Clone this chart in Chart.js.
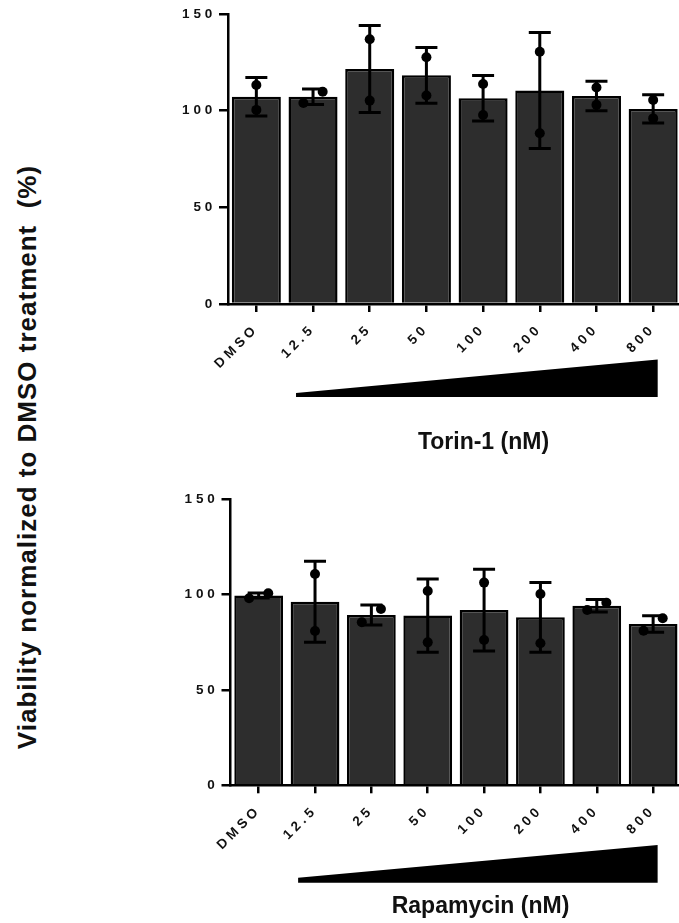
<!DOCTYPE html>
<html>
<head>
<meta charset="utf-8">
<script src="https://cdn.jsdelivr.net/npm/chart.js@4.4.1/dist/chart.umd.min.js"></script>
<style>
  body { margin: 0; background: #fff; width: 679px; height: 923px; overflow: hidden; position: relative;
         font-family: "Liberation Sans", Arial, sans-serif; }
  .box { position: absolute; left: 0; }
  #ytitle { position: absolute; left: 27px; top: 457px; transform: translate(-50%, -50%) rotate(-90deg);
            white-space: pre; font-weight: bold; font-size: 26px; letter-spacing: 1px; color: #111; }
</style>
</head>
<body>
<div id="ytitle">Viability normalized to DMSO treatment  (%)</div>
<div class="box" style="top:0"><canvas id="torinChart" width="700" height="470"></canvas></div>
<div class="box" style="top:470px"><canvas id="rapaChart" width="700" height="453"></canvas></div>
<script>
const doses = ['DMSO', '12.5', '25', '50', '100', '200', '400', '800'];
const yTicks = [0, 50, 100, 150];

// Torin-1, mean +/- SD and the two replicates
const torinMean = [107.2, 107.2, 121.6, 118.3, 106.4, 110.4, 107.6, 100.9];
const torinSD   = [10.0, 4.0, 22.5, 14.4, 11.8, 30.0, 7.6, 7.3];
const torinRep1 = [113.3, 104.0, 136.9, 127.6, 113.8, 130.5, 112.0, 105.5];
const torinRep2 = [100.4, 109.8, 105.2, 107.8, 97.8, 88.3, 103.0, 96.0];

// Rapamycin
const rapaMean = [99.4, 96.2, 89.2, 88.9, 91.8, 88.0, 94.1, 84.5];
const rapaSD   = [1.3, 21.2, 5.2, 19.2, 21.4, 18.3, 3.3, 4.3];
const rapaRep1 = [100.6, 110.7, 92.4, 101.8, 106.2, 100.2, 95.7, 87.5];
const rapaRep2 = [98.0, 80.8, 85.4, 74.9, 76.1, 74.4, 91.8, 81.0];

const FONT = '"Liberation Sans", Arial, sans-serif';

// two replicates close together get nudged apart, lower one to the left
function replicatePoints(rep1, rep2) {
    const pts = [];
    rep1.forEach((a, i) => {
        const b = rep2[i];
        const nudge = Math.abs(a - b) < 8 ? 0.17 : 0;
        pts.push({ x: i + (a < b ? -nudge : nudge), y: a });
        pts.push({ x: i + (b < a ? -nudge : nudge), y: b });
    });
    return pts;
}

const errorBars = {
    id: 'errorBars',
    afterDatasetDraw(chart, args, opts) {
        if (args.index !== 0) return;
        const { ctx, scales: { x, y } } = chart;
        ctx.save();
        ctx.strokeStyle = '#000';
        ctx.lineWidth = 3;
        opts.means.forEach((m, i) => {
            const px = x.getPixelForValue(i);
            const top = y.getPixelForValue(m + opts.sd[i]);
            const bot = y.getPixelForValue(m - opts.sd[i]);
            ctx.beginPath();
            ctx.moveTo(px, top); ctx.lineTo(px, bot);
            ctx.moveTo(px - 11, top); ctx.lineTo(px + 11, top);
            ctx.moveTo(px - 11, bot); ctx.lineTo(px + 11, bot);
            ctx.stroke();
        });
        ctx.restore();
    }
};

const spacedTicks = {
    id: 'spacedTicks',
    beforeDraw(chart) { chart.ctx.letterSpacing = '3.8px'; },
    beforeDatasetsDraw(chart) { chart.ctx.letterSpacing = '0px'; }
};

// dose wedge and the drug name under the axis
const doseWedge = {
    id: 'doseWedge',
    afterDraw(chart, args, opts) {
        const { ctx, scales: { x } } = chart;
        const cat = x.getPixelForValue(1) - x.getPixelForValue(0);
        const left = x.getPixelForValue(1) - 0.3 * cat;
        const right = x.getPixelForValue(7) + 0.08 * cat;
        ctx.save();
        ctx.fillStyle = '#000';
        ctx.beginPath();
        ctx.moveTo(left, opts.bottom);
        ctx.lineTo(left, opts.bottom - opts.tip);
        ctx.lineTo(right, opts.bottom - opts.height);
        ctx.lineTo(right, opts.bottom);
        ctx.closePath();
        ctx.fill();
        ctx.letterSpacing = '0px';
        ctx.font = 'bold 23px ' + FONT;
        ctx.fillStyle = '#111';
        ctx.textAlign = 'center';
        ctx.textBaseline = 'alphabetic';
        ctx.fillText(opts.title, opts.titleX, opts.titleY);
        ctx.restore();
    }
};

function makeChart(canvasId, means, sd, rep1, rep2, area, wedge) {
    const canvas = document.getElementById(canvasId);
    return new Chart(canvas, {
        type: 'bar',
        data: {
            labels: doses,
            datasets: [{
                type: 'bar',
                data: means,
                backgroundColor: '#2d2d2d',
                borderColor: '#000',
                borderWidth: 2.5,
                barPercentage: 0.865,
                categoryPercentage: 1,
                grouped: false,
                order: 2
            }, {
                type: 'scatter',
                xAxisID: 'xp',
                data: replicatePoints(rep1, rep2),
                backgroundColor: '#000',
                borderWidth: 0,
                pointRadius: 5,
                order: 1
            }]
        },
        options: {
            responsive: false,
            animation: false,
            layout: { padding: { left: 0, top: area.top, right: canvas.width - area.right, bottom: 0 } },
            plugins: {
                legend: { display: false },
                tooltip: { enabled: false },
                errorBars: { means, sd },
                doseWedge: wedge
            },
            scales: {
                x: {
                    type: 'category',
                    offset: true,
                    grid: { offset: false, drawOnChartArea: false, color: '#000', lineWidth: 2.5, tickLength: 8 },
                    border: { display: true, color: '#000', width: 2.5 },
                    ticks: { color: '#111', font: { family: FONT, weight: 'bold', size: 13.5 },
                             minRotation: 45, maxRotation: 45, padding: 9 },
                    afterFit(scale) { scale.height = canvas.height - area.bottom; }
                },
                xp: { type: 'linear', axis: 'x', position: 'bottom', display: false, offset: false,
                      min: -0.5, max: 7.5, grace: 0 },
                y: {
                    min: 0, max: 150,
                    afterBuildTicks(scale) { scale.ticks = yTicks.map(v => ({ value: v })); },
                    grid: { drawOnChartArea: false, color: '#000', lineWidth: 2.5, tickLength: 9 },
                    border: { display: true, color: '#000', width: 2.5 },
                    ticks: { color: '#111', font: { family: FONT, weight: 'bold', size: 13.5 }, padding: 3 },
                    afterFit(scale) { scale.width = area.left; }
                }
            }
        },
        plugins: [spacedTicks, errorBars, doseWedge]
    });
}

makeChart('torinChart', torinMean, torinSD, torinRep1, torinRep2,
    { left: 228, top: 14, right: 681.5, bottom: 304 },
    { bottom: 397, height: 37.5, tip: 4, title: 'Torin-1 (nM)', titleX: 483.5, titleY: 449 });

makeChart('rapaChart', rapaMean, rapaSD, rapaRep1, rapaRep2,
    { left: 230.5, top: 29, right: 681.3, bottom: 315.3 },
    { bottom: 412.7, height: 37.7, tip: 5, title: 'Rapamycin (nM)', titleX: 480.5, titleY: 443.3 });
</script>
</body>
</html>
